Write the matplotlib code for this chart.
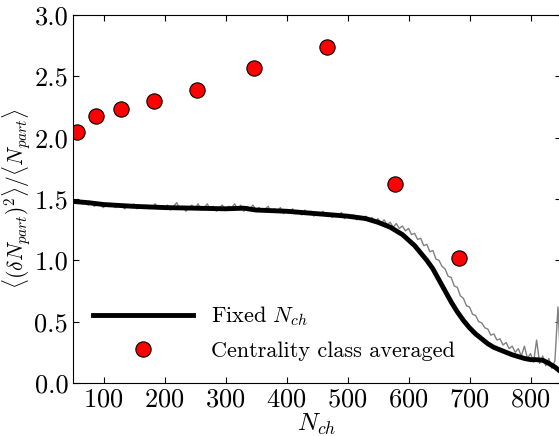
import numpy as np
import matplotlib
matplotlib.use('Agg')
import matplotlib.pyplot as plt

plt.rcParams['font.family'] = 'cmr10'
plt.rcParams['mathtext.fontset'] = 'cm'
plt.rcParams['axes.unicode_minus'] = False
plt.rcParams['axes.formatter.use_mathtext'] = True

# centrality class averaged points
nch_class = [56, 87, 129, 183, 254, 346, 466, 578, 682]
ratio_class = [2.05, 2.18, 2.23, 2.30, 2.39, 2.57, 2.74, 1.62, 1.02]

# fixed Nch, smoothed curve
nch_fixed = [50, 75, 100, 150, 200, 250, 300, 330, 350, 400, 450, 500, 530, 550,
             570, 590, 610, 630, 640, 650, 660, 670, 680, 690, 700, 710, 720, 730,
             740, 750, 770, 790, 800, 810, 820, 830, 840, 850]
ratio_fixed = [1.48, 1.47, 1.455, 1.44, 1.43, 1.425, 1.42, 1.425, 1.41, 1.40, 1.38,
               1.36, 1.34, 1.31, 1.27, 1.21, 1.12, 1.00, 0.93, 0.84, 0.75, 0.66,
               0.58, 0.51, 0.45, 0.40, 0.36, 0.32, 0.29, 0.27, 0.23, 0.20, 0.19,
               0.19, 0.185, 0.16, 0.13, 0.09]

# fixed Nch, raw (noisy) curve, every 5 in Nch from 50 to 850
nch_raw = np.arange(50, 851, 5)
ratio_raw = [1.49, 1.47, 1.48, 1.46, 1.47, 1.45, 1.47, 1.44, 1.46, 1.45,
             1.43, 1.46, 1.44, 1.45, 1.43, 1.46, 1.44, 1.42, 1.45, 1.43,
             1.46, 1.42, 1.44, 1.43, 1.45, 1.42, 1.44, 1.46, 1.42, 1.44,
             1.43, 1.45, 1.41, 1.44, 1.47, 1.42, 1.44, 1.40, 1.43, 1.45,
             1.42, 1.46, 1.41, 1.43, 1.46, 1.42, 1.44, 1.40, 1.43, 1.45,
             1.41, 1.44, 1.43, 1.46, 1.42, 1.45, 1.40, 1.44, 1.42, 1.45,
             1.41, 1.43, 1.40, 1.42, 1.44, 1.39, 1.42, 1.40, 1.43, 1.38,
             1.41, 1.39, 1.42, 1.38, 1.40, 1.37, 1.41, 1.38, 1.40, 1.36,
             1.39, 1.37, 1.40, 1.36, 1.38, 1.35, 1.38, 1.36, 1.39, 1.34,
             1.37, 1.35, 1.37, 1.33, 1.36, 1.34, 1.36, 1.32, 1.35, 1.31,
             1.34, 1.30, 1.33, 1.29, 1.31, 1.27, 1.30, 1.26, 1.28, 1.24,
             1.26, 1.21, 1.22, 1.17, 1.18, 1.12, 1.13, 1.07, 1.08, 1.01,
             1.00, 0.95, 0.93, 0.87, 0.86, 0.79, 0.78, 0.71, 0.69, 0.63,
             0.62, 0.56, 0.55, 0.50, 0.49, 0.45, 0.44, 0.39, 0.40, 0.35,
             0.36, 0.31, 0.33, 0.28, 0.30, 0.25, 0.28, 0.22, 0.30, 0.20,
             0.24, 0.17, 0.35, 0.16, 0.22, 0.14, 0.20, 0.12, 0.18, 0.62,
             0.10]

fig = plt.figure(figsize=(5.59, 4.36), dpi=100)
ax = fig.add_axes([0.1306, 0.1216, 0.873, 0.844])

ax.plot(nch_raw, ratio_raw, color='gray', lw=1.0)
ax.plot(nch_fixed, ratio_fixed, color='black', lw=3.5, label=r'Fixed $N_{ch}$')
ax.plot(nch_class, ratio_class, 'o', color='red', markeredgecolor='black',
        markeredgewidth=0.8, markersize=11, label='Centrality class averaged')

ax.set_xlim(50, 850)
ax.set_ylim(0, 3)
ax.set_xticks([100, 200, 300, 400, 500, 600, 700, 800])
ax.set_yticks([0.0, 0.5, 1.0, 1.5, 2.0, 2.5, 3.0])
ax.set_yticklabels(['0.0', '0.5', '1.0', '1.5', '2.0', '2.5', '3.0'])
ax.tick_params(direction='in', top=True, right=True, length=4, labelsize=19)
ax.set_xlabel(r'$N_{ch}$', fontsize=18, labelpad=0)
ax.set_ylabel(r'$\langle(\delta N_{part})^2\rangle/\langle N_{part}\rangle$', fontsize=15.5, labelpad=1)

ax.legend(loc='lower left', bbox_to_anchor=(0.0, 0.005), frameon=False, fontsize=16,
          handlelength=4.5, numpoints=1, borderaxespad=0.5, labelspacing=0.6)

fig.savefig('out.png', dpi=100)
